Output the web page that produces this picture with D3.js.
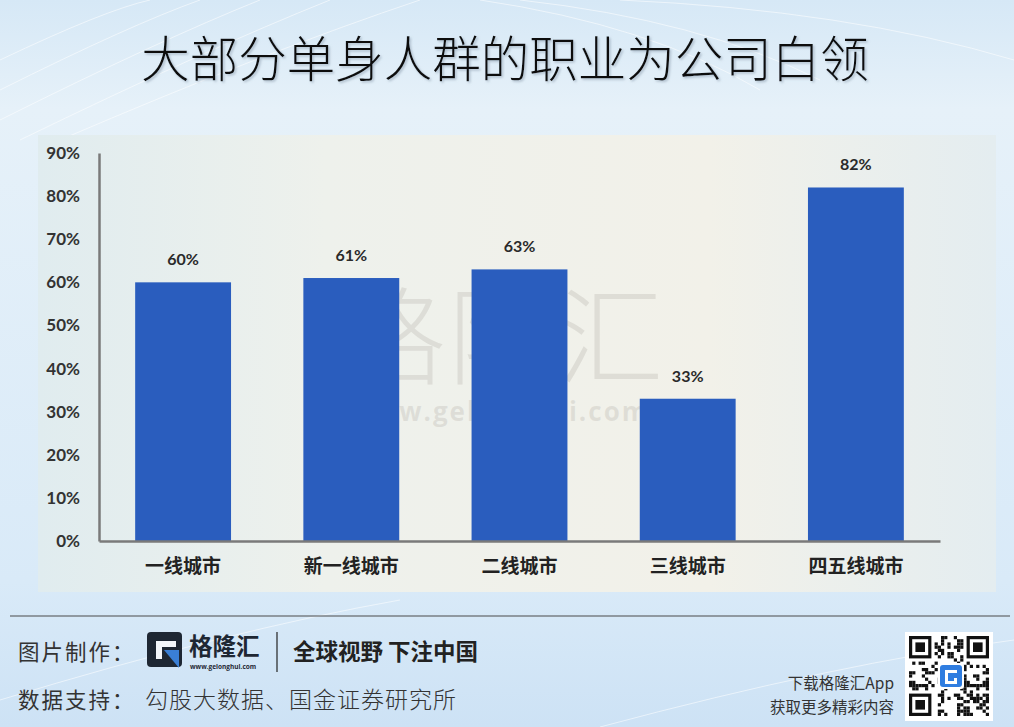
<!DOCTYPE html>
<html><head><meta charset="utf-8">
<script src="https://cdn.jsdelivr.net/npm/d3@7/dist/d3.min.js"></script>
<style>
html,body{margin:0;padding:0;overflow:hidden;background:#dcebf7;}
svg{display:block;}
</style></head>
<body>
<svg id="c" width="1014" height="727"></svg>
<script>
const title = "大部分单身人群的职业为公司白领";
const categories = ["一线城市","新一线城市","二线城市","三线城市","四五线城市"];
const values = [0.60, 0.61, 0.63, 0.33, 0.82];
const valueLabels = ["60%","61%","63%","33%","82%"];
const yTicks = [0,0.1,0.2,0.3,0.4,0.5,0.6,0.7,0.8,0.9];
const credit1 = "图片制作：";
const slogan = "全球视野 下注中国";
const credit2 = "数据支持：";
const source = "勾股大数据、国金证券研究所";
const appLine1 = "下载格隆汇App";
const appLine2 = "获取更多精彩内容";

const svg = d3.select("#c");
const CJK = "'Noto Sans CJK SC','Noto Sans',sans-serif";
const defs = svg.append("defs");
const bg = defs.append("linearGradient").attr("id","bg").attr("x1",0).attr("y1",0).attr("x2",0).attr("y2",1);
bg.append("stop").attr("offset","0").attr("stop-color","#d6e8f6");
bg.append("stop").attr("offset","0.15").attr("stop-color","#e6f1f9");
bg.append("stop").attr("offset","0.8").attr("stop-color","#d9eaf8");
bg.append("stop").attr("offset","1").attr("stop-color","#cde2f5");
const pg = defs.append("linearGradient").attr("id","pg").attr("x1",0).attr("y1",0).attr("x2",1).attr("y2",0);
pg.append("stop").attr("offset","0").attr("stop-color","#e0ecef");
pg.append("stop").attr("offset","0.3").attr("stop-color","#eef1ec");
pg.append("stop").attr("offset","0.7").attr("stop-color","#f2f1e9");
pg.append("stop").attr("offset","1").attr("stop-color","#e4edf0");
const sh = defs.append("filter").attr("id","ts").attr("x","-5%").attr("y","-20%").attr("width","110%").attr("height","140%");
sh.append("feDropShadow").attr("dx",1.5).attr("dy",1.5).attr("stdDeviation",0.8).attr("flood-color","#8899aa").attr("flood-opacity",0.6);

svg.append("rect").attr("width",1014).attr("height",727).attr("fill","url(#bg)");
// faint decorative lines at top
const deco = svg.append("g").attr("stroke","#ffffff").attr("stroke-opacity",0.55).attr("fill","none").attr("stroke-width",1);
[[0,120,260,0],[0,90,200,0],[20,140,330,0],[0,60,150,0],[60,140,420,0],[480,0,760,90],[520,0,820,80],[620,0,1014,60],[0,700,400,600],[600,727,1014,640]].forEach(d=>{
  deco.append("path").attr("d",`M${d[0]},${d[1]} Q${(d[0]+d[2])/2+30},${(d[1]+d[3])/2-20} ${d[2]},${d[3]}`);
});

// title
svg.append("text").attr("x",505).attr("y",77).attr("text-anchor","middle")
  .attr("font-family",CJK).attr("font-size",48.5).attr("font-weight",300).attr("fill","#111")
  .attr("filter","url(#ts)").text(title);

// chart panel
svg.append("rect").attr("x",38).attr("y",135).attr("width",958).attr("height",457).attr("fill","url(#pg)");

// watermark
svg.append("text").attr("x",503).attr("y",376).attr("text-anchor","middle")
  .attr("font-family",CJK).attr("font-size",106).attr("font-weight",200).attr("fill","#a8a49c").attr("fill-opacity",0.25)
  .attr("letter-spacing",3).text("格隆汇");
svg.append("text").attr("x",500).attr("y",421).attr("text-anchor","middle")
  .attr("font-family","'Open Sans',sans-serif").attr("font-size",26).attr("font-weight",700).attr("fill","#a8a49c").attr("fill-opacity",0.25)
  .attr("letter-spacing",2).text("www.gelonghui.com");

const x = d3.scaleBand().domain(categories).range([99,940]).paddingInner(0.43).paddingOuter(0.215);
const y = d3.scaleLinear().domain([0,0.9]).range([541,153]);

svg.append("g").selectAll("rect").data(values).join("rect")
  .attr("x",(d,i)=>x(categories[i])).attr("width",x.bandwidth())
  .attr("y",d=>y(d)).attr("height",d=>y(0)-y(d)).attr("fill","#2a5dbe");

svg.append("g").selectAll("text").data(values).join("text")
  .attr("x",(d,i)=>x(categories[i])+x.bandwidth()/2).attr("y",d=>y(d)-17)
  .attr("text-anchor","middle").attr("font-family","Lato,'Open Sans',sans-serif").attr("font-weight",700)
  .attr("font-size",16).attr("fill","#2a2a2a").text((d,i)=>valueLabels[i]);

const yAxis = svg.append("g").attr("transform","translate(99,0)")
  .call(d3.axisLeft(y).tickValues(yTicks).tickSize(0).tickPadding(19).tickFormat(d3.format(".0%")));
yAxis.select(".domain").attr("stroke","#7a7a7a").attr("stroke-width",2.5);
yAxis.selectAll("text").attr("font-family","Lato,'Open Sans',sans-serif").attr("font-weight",700)
  .attr("font-size",17).attr("fill","#333");

const xAxis = svg.append("g").attr("transform","translate(0,541)")
  .call(d3.axisBottom(x).tickSize(0).tickPadding(19));
xAxis.select(".domain").attr("stroke","#7a7a7a").attr("stroke-width",2.5);
xAxis.selectAll("text").attr("font-family",CJK).attr("font-weight",700)
  .attr("font-size",19).attr("fill","#222");

// footer
svg.append("line").attr("x1",10).attr("x2",1010).attr("y1",616).attr("y2",616).attr("stroke","#4a4a4a").attr("stroke-width",1);
svg.append("text").attr("x",18).attr("y",660).attr("font-family",CJK).attr("font-size",21.5).attr("fill","#333").attr("letter-spacing",2).text(credit1);
svg.append("text").attr("x",18).attr("y",708).attr("font-family",CJK).attr("font-size",21.5).attr("fill","#333").attr("letter-spacing",2).text(credit2);
svg.append("text").attr("x",145).attr("y",708).attr("font-family",CJK).attr("font-size",23).attr("font-weight",300).attr("fill","#333").attr("letter-spacing",1).text(source);

// logo
const lg = svg.append("g").attr("transform","translate(147,632)");
lg.append("rect").attr("width",35).attr("height",35).attr("rx",4).attr("fill","#1e2733");
lg.append("rect").attr("x",9).attr("y",9).attr("width",20).attr("height",6).attr("fill","#f3f6fa");
lg.append("rect").attr("x",9).attr("y",9).attr("width",6).attr("height",18).attr("fill","#f3f6fa");
lg.append("path").attr("d","M17,18 L32,18 L32,36 Z").attr("fill","#3a7fd5");
svg.append("text").attr("x",189).attr("y",655).attr("font-family",CJK).attr("font-size",23.5).attr("font-weight",700).attr("fill","#1e2733").text("格隆汇");
svg.append("text").attr("x",190).attr("y",669).attr("font-family","'Open Sans',sans-serif").attr("font-size",6.5).attr("font-weight",700).attr("fill","#1e2733").text("www.gelonghui.com");
svg.append("line").attr("x1",277).attr("x2",277).attr("y1",632).attr("y2",672).attr("stroke","#222").attr("stroke-width",1.2);
svg.append("text").attr("x",293).attr("y",660).attr("font-family",CJK).attr("font-size",22.5).attr("font-weight",700).attr("fill","#222").text(slogan);

svg.append("text").attr("x",894).attr("y",689).attr("text-anchor","end").attr("font-family",CJK).attr("font-size",15.5).attr("fill","#333").text(appLine1);
svg.append("text").attr("x",894).attr("y",713).attr("text-anchor","end").attr("font-family",CJK).attr("font-size",15.5).attr("fill","#333").text(appLine2);

// QR code decoration
const qr = svg.append("g").attr("transform","translate(905,632)");
qr.append("rect").attr("width",88).attr("height",89).attr("fill","#fff");
const N = 25, m = 3.2, ox = 4, oy = 4;
const cells = [];
for (let i=0;i<N;i++) for (let j=0;j<N;j++){
  const inFinder = (i<8&&j<8)||(i<8&&j>=N-8)||(i>=N-8&&j<8);
  if (inFinder) continue;
  const h = ((i*73 + j*151 + i*j*7) ^ (i*13+j*5)) % 7;
  if (h<3) cells.push([i,j]);
}
qr.selectAll("rect.m").data(cells).join("rect").attr("class","m")
  .attr("x",d=>ox+d[1]*m).attr("y",d=>oy+d[0]*m).attr("width",m).attr("height",m).attr("fill","#111");
[[0,0],[0,N-7],[N-7,0]].forEach(([r,c])=>{
  qr.append("rect").attr("x",ox+c*m+m/2).attr("y",oy+r*m+m/2).attr("width",6*m).attr("height",6*m).attr("fill","none").attr("stroke","#111").attr("stroke-width",m);
  qr.append("rect").attr("x",ox+(c+2)*m).attr("y",oy+(r+2)*m).attr("width",3*m).attr("height",3*m).attr("fill","#111");
});
qr.append("rect").attr("x",33).attr("y",31).attr("width",26).attr("height",26).attr("rx",3).attr("fill","#fff");
qr.append("rect").attr("x",35).attr("y",33).attr("width",22).attr("height",22).attr("rx",3).attr("fill","#2f7de0");
qr.append("path").attr("d","M40,38 H52 V41 H43 V49 H49 V46 H52 V52 H40 Z").attr("fill","#fff");
</script>
</body></html>
